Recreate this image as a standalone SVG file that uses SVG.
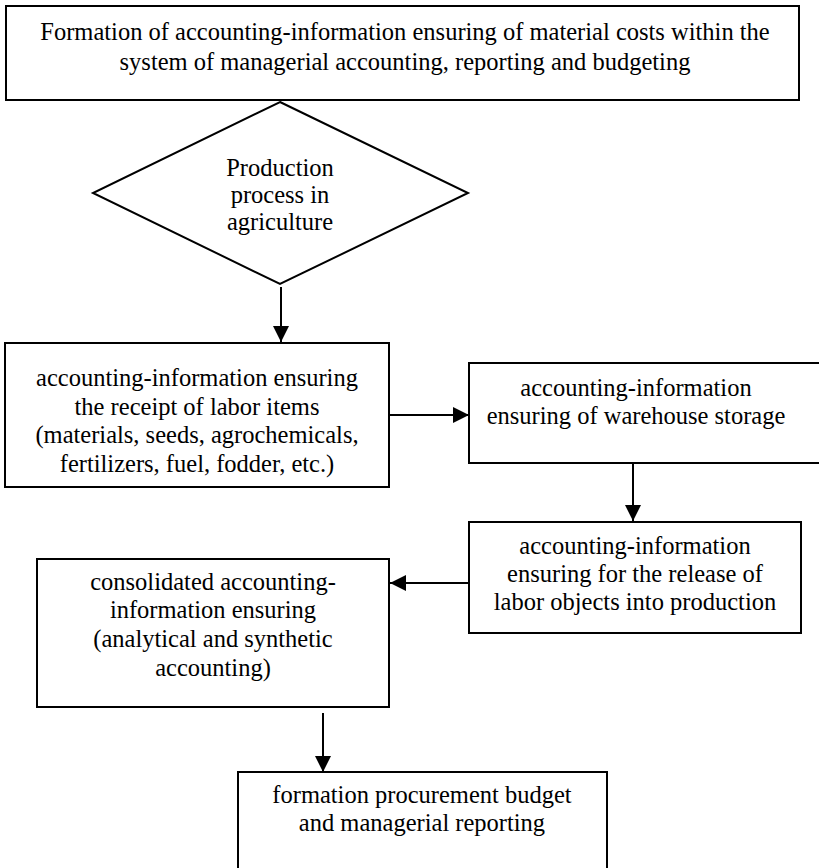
<svg xmlns="http://www.w3.org/2000/svg" width="819" height="868" viewBox="0 0 819 868">
  <style>
    .box { fill: #ffffff; stroke: #000000; stroke-width: 2; }
    .lbl { font-family: "Liberation Serif", "Times New Roman", serif; font-size: 24.5px; fill: #000000; text-anchor: middle; }
    .conn { stroke: #000000; stroke-width: 2; fill: none; }
  </style>
  <defs>
    <marker id="arrow" viewBox="0 0 16 16" refX="16" refY="8" markerWidth="16" markerHeight="16" markerUnits="userSpaceOnUse" orient="auto">
      <path d="M0,0 L16,8 L0,16 Z" fill="#000000"/>
    </marker>
  </defs>
  <rect width="819" height="868" fill="#ffffff"/>

  <g id="title">
    <rect class="box" x="6" y="6" width="793" height="94"/>
    <text class="lbl" x="405" y="40">Formation of accounting-information ensuring of material costs within the</text>
    <text class="lbl" x="405" y="70">system of managerial accounting, reporting and budgeting</text>
  </g>

  <g id="production">
    <polygon class="box" points="280,102 468,193 280,284 93,193"/>
    <text class="lbl" x="280" y="176">Production</text>
    <text class="lbl" x="280" y="203">process in</text>
    <text class="lbl" x="280" y="230">agriculture</text>
  </g>

  <g id="receipt">
    <rect class="box" x="5" y="343" width="384" height="144"/>
    <text class="lbl" x="197" y="386">accounting-information ensuring</text>
    <text class="lbl" x="197" y="415">the receipt of labor items</text>
    <text class="lbl" x="197" y="443">(materials, seeds, agrochemicals,</text>
    <text class="lbl" x="197" y="472">fertilizers, fuel, fodder, etc.)</text>
  </g>

  <g id="warehouse">
    <rect class="box" x="469" y="363" width="360" height="100"/>
    <text class="lbl" x="636" y="396">accounting-information</text>
    <text class="lbl" x="636" y="424">ensuring of warehouse storage</text>
  </g>

  <g id="release">
    <rect class="box" x="469" y="522" width="332" height="111"/>
    <text class="lbl" x="635" y="554">accounting-information</text>
    <text class="lbl" x="635" y="582">ensuring for the release of</text>
    <text class="lbl" x="635" y="610">labor objects into production</text>
  </g>

  <g id="consolidated">
    <rect class="box" x="37" y="559" width="352" height="148"/>
    <text class="lbl" x="213" y="590">consolidated accounting-</text>
    <text class="lbl" x="213" y="618">information ensuring</text>
    <text class="lbl" x="213" y="647">(analytical and synthetic</text>
    <text class="lbl" x="213" y="676">accounting)</text>
  </g>

  <g id="budget">
    <rect class="box" x="238" y="772" width="369" height="110"/>
    <text class="lbl" x="422" y="803">formation procurement budget</text>
    <text class="lbl" x="422" y="831">and managerial reporting</text>
  </g>

  <g id="connectors">
    <line class="conn" x1="281" y1="287" x2="281" y2="342" marker-end="url(#arrow)"/>
    <line class="conn" x1="389" y1="415" x2="469" y2="415" marker-end="url(#arrow)"/>
    <line class="conn" x1="633" y1="463" x2="633" y2="521" marker-end="url(#arrow)"/>
    <line class="conn" x1="469" y1="583" x2="390" y2="583" marker-end="url(#arrow)"/>
    <line class="conn" x1="323" y1="713" x2="323" y2="772" marker-end="url(#arrow)"/>
  </g>
</svg>
